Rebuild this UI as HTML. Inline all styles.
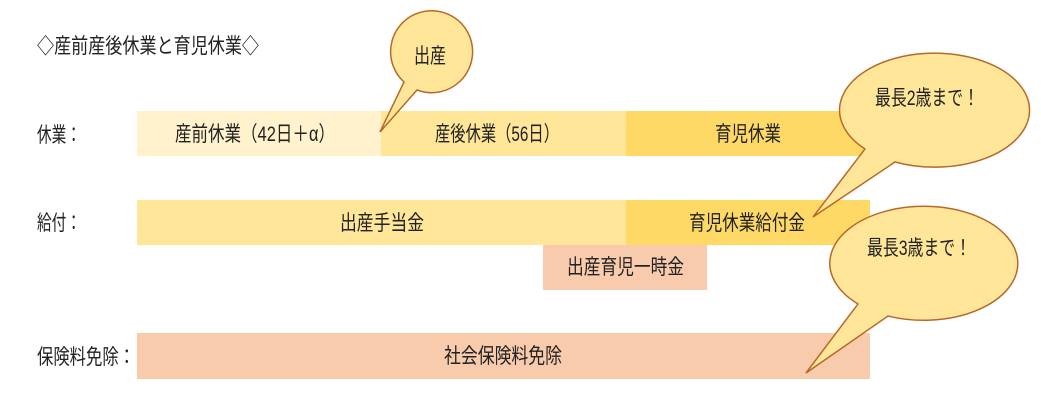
<!DOCTYPE html>
<html><head><meta charset="utf-8"><style>
html,body{margin:0;padding:0;background:#fff;}
svg{display:block}
text{font-family:"Liberation Sans","Noto Sans CJK JP",sans-serif;font-size:21px;fill:#222;}
</style></head><body>
<svg width="1041" height="418" viewBox="0 0 1041 418" xmlns="http://www.w3.org/2000/svg">
<text x="37" y="53" textLength="222" lengthAdjust="spacingAndGlyphs">◇産前産後休業と育児休業◇</text>
<text x="37" y="142" textLength="44" lengthAdjust="spacingAndGlyphs">休業：</text>
<text x="37" y="230" textLength="44" lengthAdjust="spacingAndGlyphs">給付：</text>
<text x="37" y="364" textLength="98" lengthAdjust="spacingAndGlyphs">保険料免除：</text>

<rect x="137" y="111" width="244" height="45" fill="#FFF2CC"/>
<rect x="381" y="111" width="245" height="45" fill="#FFE699"/>
<rect x="626" y="111" width="244" height="45" fill="#FFD966"/>
<rect x="137" y="200" width="489" height="45" fill="#FFE699"/>
<rect x="626" y="200" width="244" height="45" fill="#FFD966"/>
<rect x="543" y="245" width="164" height="45" fill="#F8CBAD"/>
<rect x="137" y="333" width="733" height="46" fill="#F8CBAD"/>

<text x="175" y="141" textLength="160" lengthAdjust="spacingAndGlyphs">産前休業（42日＋α）</text>
<text x="435" y="141" textLength="124" lengthAdjust="spacingAndGlyphs">産後休業（56日）</text>
<text x="715" y="141" textLength="66" lengthAdjust="spacingAndGlyphs">育児休業</text>
<text x="340" y="230" textLength="84" lengthAdjust="spacingAndGlyphs">出産手当金</text>
<text x="689" y="230" textLength="116" lengthAdjust="spacingAndGlyphs">育児休業給付金</text>
<text x="567" y="274" textLength="117" lengthAdjust="spacingAndGlyphs">出産育児一時金</text>
<text x="444" y="363" textLength="118" lengthAdjust="spacingAndGlyphs">社会保険料免除</text>

<g fill="#FFE699" stroke="#B8692A" stroke-width="1.5">
<path d="M404,82 A41,41 0 1 1 417,90 L380,132 Z"/>
<path d="M865,149 A95,57 0 1 1 895,162 L813,217 Z"/>
<path d="M858,304 A94,57 0 1 1 888,316 L806,373 Z"/>
</g>
<text x="414" y="63" textLength="32" lengthAdjust="spacingAndGlyphs">出産</text>
<text x="875" y="105" textLength="104" lengthAdjust="spacingAndGlyphs">最長2歳まで！</text>
<text x="867" y="255" textLength="104" lengthAdjust="spacingAndGlyphs">最長3歳まで！</text>
</svg>
</body></html>
